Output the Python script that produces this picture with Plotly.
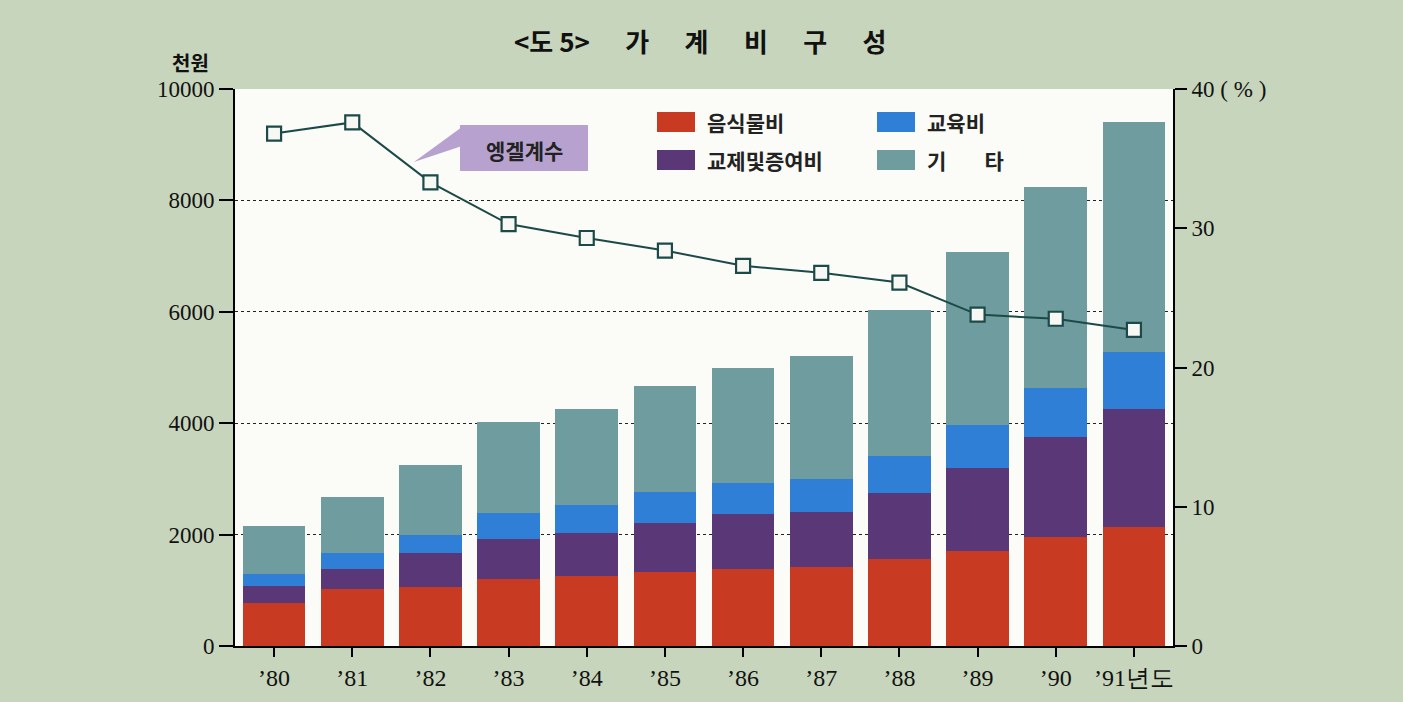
import plotly.graph_objects as go

years = ["1980", "1981", "1982", "1983", "1984", "1985", "1986", "1987", "1988", "1989", "1990", "1991"]
year_labels = ["’80", "’81", "’82", "’83", "’84", "’85", "’86", "’87", "’88", "’89", "’90", "’91년도"]
# segment values (천원)
food = [777, 1017, 1059, 1203, 1257, 1329, 1377, 1413, 1556, 1706, 1962, 2142]
social = [306, 371, 605, 718, 766, 873, 987, 998, 1185, 1495, 1796, 2107]
education = [210, 282, 329, 461, 508, 569, 568, 593, 670, 761, 874, 1029]
other = [867, 1000, 1251, 1639, 1718, 1897, 2059, 2202, 2621, 3112, 3609, 4130]
engel = [36.8, 37.6, 33.3, 30.3, 29.3, 28.4, 27.3, 26.8, 26.1, 23.8, 23.5, 22.7]
left_ticks = [0, 2000, 4000, 6000, 8000, 10000]
right_ticks = [0, 10, 20, 30, 40]
right_labels = ["0", "10", "20", "30", "40 ( % )"]

names = ["음식물비", "교제및증여비", "교육비", "기  타"]
colors = ["#c93a22", "#5a3878", "#2f7fd6", "#6f9c9e"]

W, H = 1403, 702
L, R, T, B = 235, 1173, 89, 646
def px(x):
    return (x - L) / (R - L)
def py(y):
    return (B - y) / (B - T)

fig = go.Figure()
for vals, name, col in zip([food, social, education, other], names, colors):
    fig.add_trace(go.Bar(x=years, y=vals, name=name, marker=dict(color=col, line=dict(width=0)),
                         showlegend=False))

fig.add_trace(go.Scatter(x=years, y=engel, yaxis="y2", mode="lines+markers", name="엥겔계수",
                         line=dict(color="#1b4a48", width=2),
                         marker=dict(symbol="square", size=14, color="#f7f8f4",
                                     line=dict(color="#1b4a48", width=2.2)),
                         showlegend=False))

serif = "Liberation Serif"
kfont = "Noto Sans CJK KR"

fig.update_layout(
    width=W, height=H,
    margin=dict(l=L, r=W - R, t=T, b=H - B, pad=0),
    paper_bgcolor="#c7d5bc",
    plot_bgcolor="#fbfbf7",
    barmode="stack",
    bargap=0.2,
    xaxis=dict(type="category", range=[-0.5, len(years) - 0.5], tickvals=years, ticktext=year_labels,
               showline=True, linecolor="black", linewidth=2, ticks="outside", ticklen=9,
               tickwidth=2, tickcolor="black", showgrid=False,
               tickfont=dict(family=serif, size=24, color="#111")),
    yaxis=dict(range=[0, 10000], tickvals=left_ticks, tickformat="d", showline=True,
               linecolor="black", linewidth=2,
               ticks="outside", ticklen=14, tickwidth=2, tickcolor="black",
               showgrid=True, gridcolor="#222", gridwidth=1, griddash="dot",
               zeroline=False, tickfont=dict(family=serif, size=23, color="#111")),
    yaxis2=dict(range=[0, 40], tickvals=right_ticks, ticktext=right_labels,
                overlaying="y", side="right", showline=True, linecolor="black", linewidth=2,
                ticks="outside", ticklen=12, tickwidth=2, tickcolor="black", showgrid=False,
                zeroline=False, tickfont=dict(family=serif, size=23, color="#111")),
    font=dict(family=kfont),
)

def note(text, x, y, size, xanchor="center", color="#111"):
    fig.add_annotation(text=text, x=px(x), y=py(y), xref="paper", yref="paper",
                       xanchor=xanchor, yanchor="middle", showarrow=False,
                       font=dict(family=kfont, size=size, color=color))

# title
sp = "&nbsp;" * 6
note("<b>&lt;도 5&gt;" + sp + "가" + sp + "계" + sp + "비" + sp + "구" + sp + "성</b>", 700, 40, 26)
# left axis unit
note("<b>천원</b>", 190, 63, 20)

# legend (manual, 2x2)
leg = [(657, 122, 0, 705), (877, 122, 2, 925), (657, 160, 1, 705), (877, 160, 3, 925)]
for bx, by, idx, tx in leg:
    fig.add_shape(type="rect", xref="paper", yref="paper", x0=px(bx), x1=px(bx + 38),
                  y0=py(by + 10), y1=py(by - 10), fillcolor=colors[idx], line=dict(width=0))
    lab = names[idx] if idx != 3 else "기" + "&nbsp;" * 8 + "타"
    note("<b>" + lab + "</b>", tx, by, 21, xanchor="left", color="#222")

# Engel callout
fig.add_shape(type="path", xref="paper", yref="paper",
              path="M {:.4f} {:.4f} L {:.4f} {:.4f} L {:.4f} {:.4f} Z".format(
                  px(462), py(127), px(414), py(162), px(462), py(146)),
              fillcolor="#b7a2cf", line=dict(width=0))
fig.add_shape(type="rect", xref="paper", yref="paper", x0=px(460), x1=px(588),
              y0=py(171), y1=py(125), fillcolor="#b7a2cf", line=dict(width=0))
note("<b>엥겔계수</b>", 524, 150, 21, color="#222")

fig.write_html("out.html", config={"displayModeBar": False},
               post_script="document.body.style.margin='0';document.body.style.overflow='hidden';")
